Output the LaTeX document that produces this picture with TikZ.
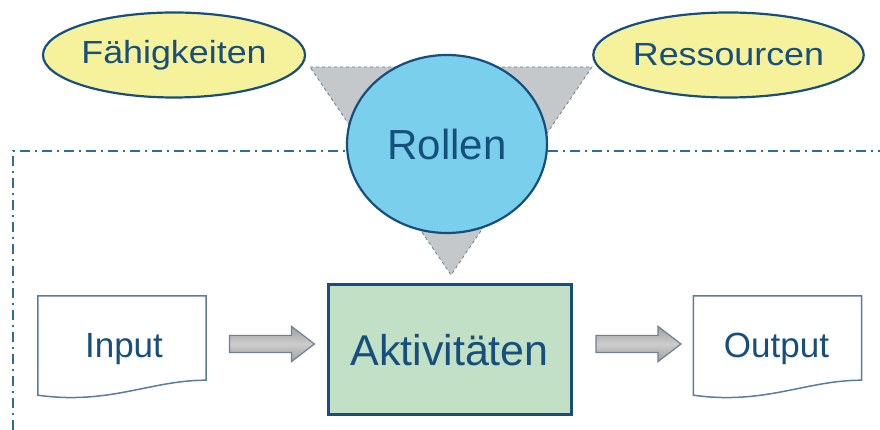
\documentclass[tikz,border=0pt]{standalone}
\usepackage{fontspec}
\setmainfont{Liberation Sans}
\usepackage{graphicx}
\usepackage{tikz}
\usetikzlibrary{positioning, calc, shapes.geometric, shapes.arrows}

\definecolor{tblue}{HTML}{174F7C}
\definecolor{ovalfill}{HTML}{F6F29C}
\definecolor{rolefill}{HTML}{79CFEC}
\definecolor{actfill}{HTML}{C1E0C6}
\definecolor{trifill}{HTML}{C5C8CA}
\definecolor{triline}{HTML}{6E8094}
\definecolor{docline}{HTML}{5A7C9E}
\definecolor{framecol}{HTML}{2F6E94}

\tikzset{
	oval/.style={ellipse, draw=tblue, line width=2.2pt, fill=ovalfill, minimum width=252pt, minimum height=85pt, inner sep=0pt, text=tblue, font=\fontsize{32}{36}\selectfont},
	role/.style={ellipse, draw=tblue, line width=2.2pt, fill=rolefill, minimum width=200pt, minimum height=178pt, inner sep=0pt, text=tblue, font=\fontsize{42}{48}\selectfont},
	act/.style={rectangle, draw=tblue, line width=3pt, fill=actfill, minimum width=243pt, minimum height=130pt, inner sep=0pt, text=tblue, font=\fontsize{43}{48}\selectfont},
	doc/.style={rectangle, minimum width=168pt, minimum height=84pt, inner sep=0pt},
	docedge/.style={draw=docline, line width=1.5pt, fill=white},
	doctext/.style={text=tblue, inner sep=0pt, font=\fontsize{35}{40}\selectfont},
	blockarrow/.style={single arrow, draw=triline, line width=1.2pt, minimum height=85pt, inner xsep=0pt, inner ysep=8pt, single arrow head extend=9pt, single arrow tip angle=75, top color=gray!75, bottom color=gray!75, middle color=gray!40},
	frame/.style={draw=framecol, line width=2pt, dash pattern=on 10pt off 5pt on 2pt off 5pt},
}

\begin{document}
\begin{tikzpicture}[x=1pt, y=1pt]
	\useasboundingbox (0,0) rectangle (880,430);

	% frame
	\draw[frame] (13,0) |- (880,279);

	% triangle behind Rollen
	\filldraw[fill=trifill, draw=triline, line width=0.8pt, dashed] (310,363) -- (592,363) -- (451,155) -- cycle;

	\node[oval] (skill) at (174,375) {\scalebox{1.12}[1]{Fähigkeiten}};
	\node[oval] (res) at (728.5,375) {\scalebox{1.12}[1]{Ressourcen}};
	\node[role] (role) at (447,286) {Rollen};

	\node[act] (act) at (449.5,80) {Aktivitäten};

	\node[doc] (in) at (122,92) {};
	\draw[docedge] ([yshift=-15pt]in.south west) -- (in.north west) -- (in.north east) -- (in.south east) .. controls +(-56,0) and +(72,-10) .. ([yshift=-15pt]in.south west) -- cycle;
	\node[doctext] (intext) at ($ (in.center)+(2,-11) $) {Input};

	\node[doc] (out) at (777.5,92) {};
	\draw[docedge] ([yshift=-15pt]out.south west) -- (out.north west) -- (out.north east) -- (out.south east) .. controls +(-56,0) and +(72,-10) .. ([yshift=-15pt]out.south west) -- cycle;
	\node[doctext] (outtext) at ($ (out.center)+(-1,-11) $) {Output};

	\node[blockarrow] (a1) at ($ (in.east)!.5!(act.west) $) {};
	\node[blockarrow] (a2) at ($ (act.east)!.5!(out.west) $) {};

\end{tikzpicture}
\end{document}
